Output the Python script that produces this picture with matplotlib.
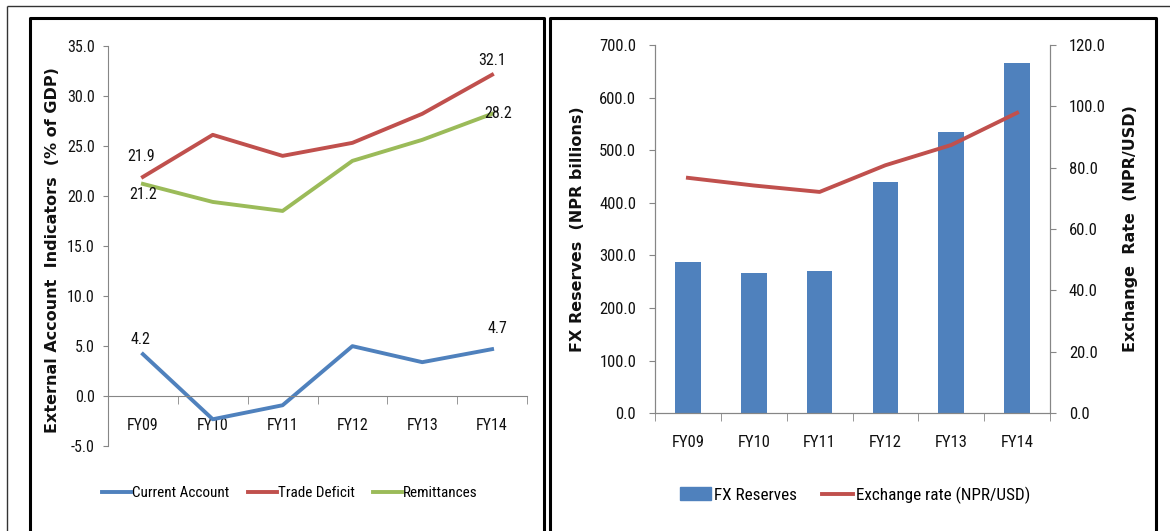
import matplotlib
matplotlib.use("Agg")
import matplotlib.pyplot as plt
from matplotlib import font_manager
from matplotlib.lines import Line2D
from matplotlib.patches import Patch
from matplotlib.ticker import FormatStrFormatter, FixedLocator

# ---------------- data ----------------
years = ["FY09", "FY10", "FY11", "FY12", "FY13", "FY14"]
current_account = [4.2, -2.3, -0.9, 5.0, 3.4, 4.7]
trade_deficit = [21.9, 26.1, 24.0, 25.3, 28.2, 32.1]
remittances = [21.2, 19.4, 18.5, 23.5, 25.6, 28.2]
fx_reserves = [286.5, 267.0, 270.0, 439.0, 534.0, 665.0]
exchange_rate = [76.7, 74.2, 72.1, 80.8, 87.4, 97.9]

left_ticks = [-5, 0, 5, 10, 15, 20, 25, 30, 35]
res_ticks = [0, 100, 200, 300, 400, 500, 600, 700]
rate_ticks = [0, 20, 40, 60, 80, 100, 120]

# ---------------- style ----------------
names = {f.name for f in font_manager.fontManager.ttflist}
narrow_candidates = ["Liberation Sans Narrow", "Roboto Condensed", "Open Sans Condensed",
                     "Noto Sans Condensed", "DejaVu Sans Condensed", "Arial Narrow"]
narrow = None
for n in narrow_candidates:
    if n in names:
        narrow = n
        break
scale = 1.0
if narrow is None:
    narrow = "Liberation Sans" if "Liberation Sans" in names else "DejaVu Sans"
    scale = 0.9
plt.rcParams["font.family"] = [narrow, "DejaVu Sans"]

FS_L = 11.5 * scale     # left chart ticks / labels
FS_R = 12.0 * scale     # right chart ticks
LEG_L = 10.9 * scale
LEG_R = 12.3 * scale

BLUE = "#4F81BD"
RED = "#C0504D"
GREEN = "#9BBB59"
AXC = "#868686"
TXT = "#111111"
LFS = 11.5

W, H = 1170, 531
fig = plt.figure(figsize=(W / 100, H / 100), dpi=100)


def fx(px):
    return px / W


def fy(py):
    return 1 - py / H


def rect(x0, y0, x1, y1):
    return [fx(x0), fy(y1), fx(x1) - fx(x0), fy(y0) - fy(y1)]


# ---------------- frame lines ----------------
def fline(xs, ys, lw, color):
    fig.add_artist(Line2D([fx(x) for x in xs], [fy(y) for y in ys], lw=lw,
                          color=color, solid_capstyle="butt"))

fline([7, 1170], [5.5, 5.5], 1.0, "#333333")
fline([7.3, 7.3], [5.5, 531], 1.0, "#333333")
for (a, b) in [(30, 543.5), (550, 1156)]:
    fline([a, a, b, b], [531, 18, 18, 531], 2.2, "black")

xs = list(range(len(years)))

# ---------------- left chart ----------------
ax1 = fig.add_axes(rect(108, 45.7, 527, 446.3))
ax1.plot(xs, current_account, color=BLUE, lw=2.8, label="Current Account")
ax1.plot(xs, trade_deficit, color=RED, lw=2.8, label="Trade Deficit")
ax1.plot(xs, remittances, color=GREEN, lw=2.8, label="Remittances")
ax1.set_xlim(-0.5, len(years) - 0.5)
ax1.set_ylim(left_ticks[0], left_ticks[-1])
ax1.set_yticks(left_ticks)
ax1.yaxis.set_major_formatter(FormatStrFormatter("%.1f"))
for s in ["top", "right"]:
    ax1.spines[s].set_visible(False)
ax1.spines["left"].set_color(AXC)
ax1.spines["bottom"].set_color(AXC)
ax1.spines["bottom"].set_position(("data", 0))
ax1.set_xticks(xs)
ax1.set_xticklabels(years)
ax1.xaxis.set_minor_locator(FixedLocator([i - 0.5 for i in range(len(years) + 1)]))
ax1.tick_params(axis="x", which="major", length=0, pad=16, labelsize=FS_L, labelcolor=TXT)
ax1.tick_params(axis="x", which="minor", length=6, color=AXC, direction="out")
ax1.tick_params(axis="y", length=3.5, color=AXC, pad=6, labelsize=FS_L, labelcolor=TXT)
ax1.set_ylabel("External Account  Indicators  (% of GDP)", family="DejaVu Sans",
               fontweight="bold", fontsize=LFS, color=TXT)
ax1.yaxis.set_label_coords((60 - 108) / (527 - 108), 0.49)

labels = [
    (0, trade_deficit[0], "21.9", (-1.5, 14.8)),
    (0, remittances[0], "21.2", (0, -7.7)),
    (5, trade_deficit[5], "32.1", (0, 10.0)),
    (5, remittances[5], "28.2", (4.3, 0)),
    (0, current_account[0], "4.2", (-1.5, 10.5)),
    (5, current_account[5], "4.7", (3.6, 14.6)),
]
for x, y, t, off in labels:
    ax1.annotate(t, (x, y), xytext=off, textcoords="offset points",
                 ha="center", va="center", fontsize=FS_L, color=TXT)

ax1.legend(loc="center", bbox_to_anchor=(fx(290), fy(493)),
           bbox_transform=fig.transFigure, ncol=3, frameon=False,
           fontsize=LEG_L, handlelength=1.9, handletextpad=0.1, columnspacing=1.2)

# ---------------- right chart ----------------
ax2 = fig.add_axes(rect(655, 45.0, 1050, 413.1))
ax2.bar(xs, fx_reserves, width=0.39, color=BLUE, label="FX Reserves", zorder=2)
ax2.set_xlim(-0.5, len(years) - 0.5)
ax2.set_ylim(res_ticks[0], res_ticks[-1])
ax2.set_yticks(res_ticks)
ax2.yaxis.set_major_formatter(FormatStrFormatter("%.1f"))
ax2.set_xticks(xs)
ax2.set_xticklabels(years)
ax2.xaxis.set_minor_locator(FixedLocator([i - 0.5 for i in range(len(years) + 1)]))
ax2.tick_params(axis="x", which="major", length=0, pad=16, labelsize=FS_R, labelcolor=TXT)
ax2.tick_params(axis="x", which="minor", length=6, color=AXC, direction="out")
ax2.tick_params(axis="y", length=4.5, color=AXC, pad=9, labelsize=FS_R, labelcolor=TXT)
ax2.spines["top"].set_visible(False)
for s in ["left", "bottom", "right"]:
    ax2.spines[s].set_color(AXC)
ax2.set_ylabel("FX Reserves  (NPR billions)", family="DejaVu Sans",
               fontweight="bold", fontsize=LFS, color=TXT)
ax2.yaxis.set_label_coords((585 - 655) / (1050 - 655), 0.5)

ax3 = ax2.twinx()
ax3.plot(xs, exchange_rate, color=RED, lw=2.8, label="Exchange rate (NPR/USD)", zorder=3)
ax3.set_ylim(rate_ticks[0], rate_ticks[-1])
ax3.set_yticks(rate_ticks)
ax3.yaxis.set_major_formatter(FormatStrFormatter("%.1f"))
ax3.tick_params(axis="y", length=4.5, color=AXC, pad=9, labelsize=FS_R, labelcolor=TXT)
ax3.spines["top"].set_visible(False)
for s in ["left", "bottom", "right"]:
    ax3.spines[s].set_color(AXC)
ax3.set_ylabel("Exchange  Rate  (NPR/USD)", family="DejaVu Sans",
               fontweight="bold", fontsize=LFS, color=TXT, rotation=90)
ax3.yaxis.set_label_coords((1123 - 655) / (1050 - 655), 0.5)

handles = [Patch(color=BLUE, label="FX Reserves"),
           Line2D([], [], color=RED, lw=2.8, label="Exchange rate (NPR/USD)")]
ax2.legend(handles=handles, loc="center", bbox_to_anchor=(fx(855), fy(495)),
           bbox_transform=fig.transFigure, ncol=2, frameon=False,
           fontsize=LEG_R, handlelength=1.8, handletextpad=0.15, columnspacing=1.5,
           handleheight=0.8)

fig.savefig("out.png", dpi=100)
